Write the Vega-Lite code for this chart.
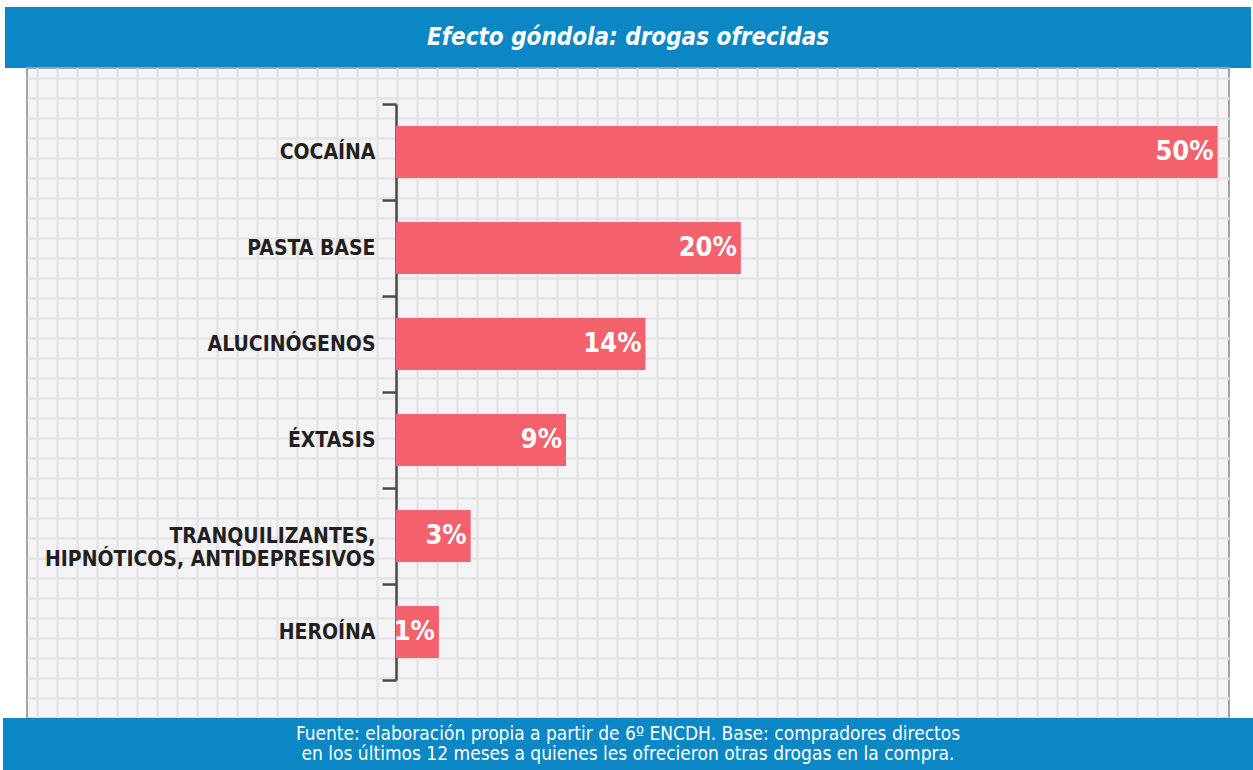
{
  "$schema": "https://vega.github.io/schema/vega-lite/v6.json",
  "background": "white",
  "padding": {"left": 3, "top": 7, "right": 0, "bottom": 0},
  "spacing": 0,
  "center": true,
  "bounds": "flush",
  "config": {"view": {"stroke": null}},
  "vconcat": [
    {
      "width": 1246,
      "height": 61,
      "view": {"fill": "#0a87c4", "stroke": null},
      "data": {"values": [{"t": "Efecto góndola: drogas ofrecidas"}]},
      "mark": {"type": "text", "font": "DejaVu Sans Condensed, DejaVu Sans", "fontSize": 24, "fontWeight": "bold", "fontStyle": "italic", "color": "white"},
      "encoding": {"text": {"field": "t", "type": "nominal"}}
    },
    {
      "width": 1202,
      "height": 650,
      "view": {"fill": "#f4f3f5", "stroke": "#a3a3a3", "strokeWidth": 2},
      "resolve": {"scale": {"x": "independent", "y": "independent"}},
      "layer": [
        {
          "data": {"values": [
            {"droga": "COCAÍNA", "valor": 0.50},
            {"droga": "PASTA BASE", "valor": 0.20},
            {"droga": "ALUCINÓGENOS", "valor": 0.14},
            {"droga": "ÉXTASIS", "valor": 0.09},
            {"droga": "TRANQUILIZANTES,|HIPNÓTICOS, ANTIDEPRESIVOS", "valor": 0.03},
            {"droga": "HEROÍNA", "valor": 0.01}
          ]},
          "encoding": {
            "y": {
              "field": "droga", "type": "nominal", "sort": null,
              "scale": {"range": [36, 612], "paddingInner": 0, "paddingOuter": 0},
              "axis": {
                "title": null, "offset": -369, "grid": false,
                "domainColor": "#4a4a4a", "domainWidth": 2.5,
                "tickColor": "#4a4a4a", "tickWidth": 2.5, "tickSize": 14, "tickBand": "extent",
                "labelFont": "DejaVu Sans Condensed, DejaVu Sans",
                "labelFontSize": 21, "labelFontWeight": "bold", "labelColor": "#231f20",
                "labelPadding": 7, "labelLimit": 450, "labelLineHeight": 23,
                "labelExpr": "split(datum.label, '|')"
              }
            },
            "x": {
              "field": "valor", "type": "quantitative",
              "scale": {"domain": [-0.2492, 0.5072], "nice": false, "zero": false},
              "axis": null
            }
          },
          "layer": [
            {
              "mark": {"type": "bar", "color": "#f3616d", "height": {"band": 0.54}},
              "encoding": {"x2": {"datum": -0.017}}
            },
            {
              "mark": {"type": "text", "align": "right", "baseline": "middle", "dx": -4, "font": "DejaVu Sans Condensed, DejaVu Sans", "fontSize": 27, "fontWeight": "bold", "color": "white"},
              "encoding": {"text": {"field": "valor", "type": "quantitative", "format": ".0%"}}
            }
          ]
        },
        {
          "data": {"values": [{"g": 0}]},
          "mark": {"type": "point", "opacity": 0},
          "encoding": {
            "x": {
              "field": "g", "type": "quantitative",
              "scale": {"domain": [-0.5, 59.6], "nice": false, "zero": false},
              "axis": {"grid": true, "gridColor": "#e5e5e8", "gridWidth": 2.5, "tickCount": 60, "labels": false, "ticks": false, "domain": false, "title": null}
            },
            "y": {
              "field": "g", "type": "quantitative",
              "scale": {"domain": [0, 32.5], "nice": false, "zero": false},
              "axis": {"grid": true, "gridColor": "#e5e5e8", "gridWidth": 2.5, "tickCount": 33, "labels": false, "ticks": false, "domain": false, "title": null}
            }
          }
        }
      ]
    },
    {
      "width": 1250,
      "height": 52,
      "view": {"fill": "#0a87c4", "stroke": null},
      "data": {"values": [{"t": "Fuente: elaboración propia a partir de 6º ENCDH. Base: compradores directos\nen los últimos 12 meses a quienes les ofrecieron otras drogas en la compra."}]},
      "mark": {"type": "text", "lineBreak": "\n", "baseline": "middle", "dy": -10, "font": "DejaVu Sans Condensed, DejaVu Sans", "fontSize": 19, "lineHeight": 20, "color": "white"},
      "encoding": {"text": {"field": "t", "type": "nominal"}}
    }
  ]
}
